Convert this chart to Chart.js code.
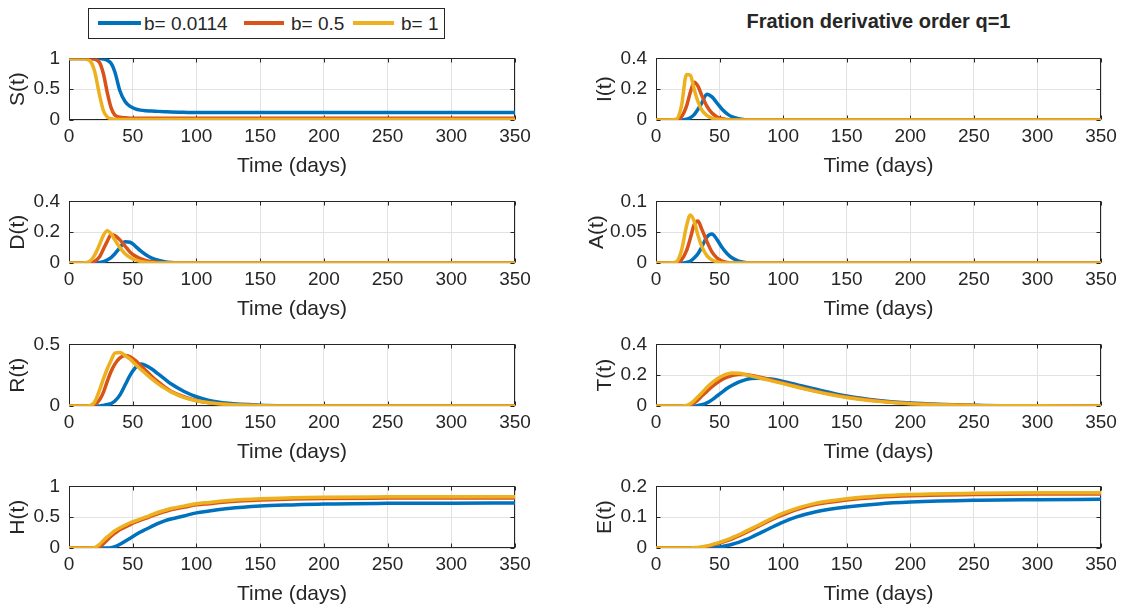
<!DOCTYPE html>
<html>
<head>
<meta charset="utf-8">
<title>Fration derivative order q=1</title>
<script src="https://cdn.jsdelivr.net/npm/chart.js@4/dist/chart.umd.min.js"></script>
<style>
    html, body {
        margin: 0;
        padding: 0;
        background: #fff;
    }

    body {
        position: relative;
        width: 1121px;
        height: 610px;
        overflow: hidden;
        font-family: "Liberation Sans", Arial, sans-serif;
        color: #262626;
    }

    canvas {
        position: absolute;
    }

    #legend {
        position: absolute;
        left: 88px;
        top: 8px;
        width: 357px;
        height: 31px;
        border: 1px solid #262626;
        box-sizing: border-box;
        background: #fff;
    }

    .key {
        position: absolute;
        top: 12px;
        height: 4px;
    }

    .lbl {
        position: absolute;
        top: 0;
        font-size: 19px;
        line-height: 29px;
        white-space: nowrap;
    }

    #title {
        position: absolute;
        left: 656px;
        width: 445px;
        top: 9px;
        text-align: center;
        font-size: 20px;
        font-weight: bold;
        line-height: 24px;
        white-space: nowrap;
    }
</style>
</head>
<body>

<div id="legend"></div>
<div id="title">Fration derivative order q=1</div>

<script>
// ==========================
// Data (time in days)
// ==========================

const days = [0, 10, 16, 20, 24, 27, 30, 33, 36, 40, 44, 48, 52, 56, 60, 65, 70, 75, 80, 90, 100, 110, 125, 150, 175, 200, 250, 300, 350];

const bLabels = ["b= 0.0114", "b= 0.5", "b= 1"];
const bColors = ["#0072BD", "#D95319", "#EDB120"];

// S(t)
const S_0114 = [1, 1, 1, 1, 0.998, 0.99, 0.97, 0.92, 0.78, 0.47, 0.3, 0.22, 0.18, 0.16, 0.15, 0.145, 0.14, 0.135, 0.13, 0.125, 0.12, 0.12, 0.12, 0.12, 0.12, 0.12, 0.12, 0.12, 0.12];
const S_05 = [1, 1, 1, 0.99, 0.93, 0.75, 0.45, 0.2, 0.08, 0.045, 0.035, 0.03, 0.03, 0.03, 0.03, 0.03, 0.03, 0.03, 0.03, 0.03, 0.03, 0.03, 0.03, 0.03, 0.03, 0.03, 0.03, 0.03, 0.03];
const S_1 = [1, 1, 0.97, 0.8, 0.4, 0.15, 0.05, 0.02, 0.012, 0.01, 0.01, 0.01, 0.01, 0.01, 0.01, 0.01, 0.01, 0.01, 0.01, 0.01, 0.01, 0.01, 0.01, 0.01, 0.01, 0.01, 0.01, 0.01, 0.01];

// I(t)
const I_0114 = [0, 0, 0, 0, 0.005, 0.015, 0.035, 0.07, 0.11, 0.168, 0.15, 0.11, 0.07, 0.04, 0.02, 0.008, 0.002, 0, 0, 0, 0, 0, 0, 0, 0, 0, 0, 0, 0];
const I_05 = [0, 0, 0, 0.02, 0.09, 0.18, 0.245, 0.22, 0.16, 0.09, 0.045, 0.02, 0.008, 0.003, 0, 0, 0, 0, 0, 0, 0, 0, 0, 0, 0, 0, 0, 0, 0];
const I_1 = [0, 0, 0.005, 0.09, 0.295, 0.29, 0.2, 0.12, 0.065, 0.03, 0.012, 0.005, 0.002, 0, 0, 0, 0, 0, 0, 0, 0, 0, 0, 0, 0, 0, 0, 0, 0];

// D(t)
const D_0114 = [0, 0, 0, 0, 0.003, 0.008, 0.02, 0.035, 0.06, 0.1, 0.138, 0.135, 0.11, 0.08, 0.055, 0.032, 0.018, 0.009, 0.004, 0, 0, 0, 0, 0, 0, 0, 0, 0, 0];
const D_05 = [0, 0, 0, 0.01, 0.04, 0.09, 0.14, 0.183, 0.178, 0.15, 0.11, 0.07, 0.045, 0.028, 0.017, 0.008, 0.004, 0.001, 0, 0, 0, 0, 0, 0, 0, 0, 0, 0, 0];
const D_1 = [0, 0, 0.01, 0.05, 0.12, 0.18, 0.21, 0.19, 0.15, 0.1, 0.06, 0.035, 0.02, 0.01, 0.005, 0.002, 0, 0, 0, 0, 0, 0, 0, 0, 0, 0, 0, 0, 0];

// A(t)
const A_0114 = [0, 0, 0, 0, 0.001, 0.003, 0.008, 0.015, 0.026, 0.042, 0.047, 0.038, 0.025, 0.015, 0.008, 0.003, 0.001, 0, 0, 0, 0, 0, 0, 0, 0, 0, 0, 0, 0];
const A_05 = [0, 0, 0, 0.005, 0.02, 0.04, 0.062, 0.068, 0.055, 0.035, 0.018, 0.008, 0.003, 0.001, 0, 0, 0, 0, 0, 0, 0, 0, 0, 0, 0, 0, 0, 0, 0];
const A_1 = [0, 0, 0.002, 0.02, 0.06, 0.078, 0.068, 0.045, 0.027, 0.012, 0.005, 0.002, 0, 0, 0, 0, 0, 0, 0, 0, 0, 0, 0, 0, 0, 0, 0, 0, 0];

// R(t)
const R_0114 = [0, 0, 0, 0, 0, 0.005, 0.012, 0.02, 0.04, 0.09, 0.17, 0.25, 0.31, 0.34, 0.33, 0.3, 0.26, 0.22, 0.18, 0.12, 0.075, 0.045, 0.022, 0.007, 0.002, 0, 0, 0, 0];
const R_05 = [0, 0, 0, 0.01, 0.05, 0.11, 0.2, 0.28, 0.34, 0.39, 0.41, 0.4, 0.37, 0.33, 0.29, 0.24, 0.195, 0.155, 0.12, 0.075, 0.045, 0.027, 0.012, 0.003, 0, 0, 0, 0, 0];
const R_1 = [0, 0, 0.003, 0.03, 0.13, 0.22, 0.3, 0.37, 0.43, 0.435, 0.41, 0.38, 0.34, 0.3, 0.265, 0.22, 0.18, 0.145, 0.115, 0.07, 0.043, 0.026, 0.012, 0.003, 0, 0, 0, 0, 0];

// T(t)
const T_0114 = [0, 0, 0, 0, 0, 0, 0, 0.003, 0.008, 0.02, 0.04, 0.065, 0.09, 0.115, 0.135, 0.155, 0.17, 0.178, 0.18, 0.175, 0.16, 0.14, 0.11, 0.065, 0.036, 0.019, 0.005, 0.001, 0];
const T_05 = [0, 0, 0, 0, 0, 0.005, 0.02, 0.04, 0.065, 0.095, 0.125, 0.15, 0.172, 0.188, 0.198, 0.205, 0.204, 0.198, 0.19, 0.17, 0.15, 0.128, 0.098, 0.058, 0.032, 0.016, 0.004, 0.001, 0];
const T_1 = [0, 0, 0, 0, 0.003, 0.015, 0.035, 0.06, 0.085, 0.12, 0.15, 0.175, 0.195, 0.208, 0.215, 0.213, 0.205, 0.195, 0.185, 0.165, 0.145, 0.125, 0.095, 0.055, 0.03, 0.015, 0.004, 0.001, 0];

// H(t)
const H_0114 = [0, 0, 0, 0, 0, 0, 0, 0.005, 0.02, 0.06, 0.11, 0.16, 0.21, 0.26, 0.3, 0.35, 0.4, 0.44, 0.47, 0.52, 0.57, 0.6, 0.64, 0.68, 0.7, 0.715, 0.725, 0.728, 0.73];
const H_05 = [0, 0, 0, 0, 0.02, 0.07, 0.13, 0.19, 0.24, 0.3, 0.34, 0.38, 0.42, 0.45, 0.48, 0.52, 0.56, 0.59, 0.62, 0.66, 0.7, 0.72, 0.75, 0.78, 0.795, 0.805, 0.81, 0.812, 0.813];
const H_1 = [0, 0, 0, 0.005, 0.06, 0.12, 0.18, 0.23, 0.28, 0.33, 0.37, 0.41, 0.44, 0.47, 0.5, 0.54, 0.58, 0.61, 0.64, 0.68, 0.72, 0.74, 0.77, 0.8, 0.815, 0.825, 0.83, 0.832, 0.833];

// E(t)
const E_0114 = [0, 0, 0, 0, 0, 0, 0, 0, 0, 0, 0.001, 0.003, 0.005, 0.008, 0.012, 0.018, 0.026, 0.035, 0.045, 0.065, 0.084, 0.1, 0.117, 0.133, 0.143, 0.149, 0.155, 0.157, 0.158];
const E_05 = [0, 0, 0, 0, 0, 0, 0, 0, 0.002, 0.005, 0.009, 0.013, 0.018, 0.024, 0.03, 0.039, 0.049, 0.059, 0.069, 0.09, 0.108, 0.124, 0.141, 0.156, 0.165, 0.17, 0.174, 0.175, 0.175];
const E_1 = [0, 0, 0, 0, 0, 0, 0.001, 0.002, 0.004, 0.007, 0.011, 0.016, 0.021, 0.027, 0.034, 0.043, 0.053, 0.063, 0.073, 0.094, 0.113, 0.128, 0.145, 0.16, 0.169, 0.174, 0.178, 0.179, 0.179];

// ==========================
// Subplot grid (4 rows x 2 columns)
// ==========================

const panels = [
    { label: "S(t)", max: 1, step: 0.5, series: [S_0114, S_05, S_1], col: 0, row: 0 },
    { label: "I(t)", max: 0.4, step: 0.2, series: [I_0114, I_05, I_1], col: 1, row: 0 },
    { label: "D(t)", max: 0.4, step: 0.2, series: [D_0114, D_05, D_1], col: 0, row: 1 },
    { label: "A(t)", max: 0.1, step: 0.05, series: [A_0114, A_05, A_1], col: 1, row: 1, wide: true },
    { label: "R(t)", max: 0.5, step: 0.5, series: [R_0114, R_05, R_1], col: 0, row: 2 },
    { label: "T(t)", max: 0.4, step: 0.2, series: [T_0114, T_05, T_1], col: 1, row: 2 },
    { label: "H(t)", max: 1, step: 0.5, series: [H_0114, H_05, H_1], col: 0, row: 3 },
    { label: "E(t)", max: 0.2, step: 0.1, series: [E_0114, E_05, E_1], col: 1, row: 3 }
];

const colLeft = [69, 656];
const colWidth = [446, 445];
const rowTop = [52, 195, 338, 480];
const plotHeight = 68;

const xAxisHeight = 62;
const padTop = 14;
const padRight = 30;

const textColor = "#262626";
const fontFamily = "'Liberation Sans', Arial, sans-serif";

Chart.defaults.font.family = fontFamily;
Chart.defaults.color = textColor;

// ==========================
// Axes box with inward ticks
// ==========================

const axesBox = {
    id: "axesBox",
    beforeDatasetsDraw(chart) {
        const { ctx, chartArea: a, scales: { x, y } } = chart;
        const L = Math.round(a.left) + 0.5;
        const R = Math.round(a.right) - 0.5;
        const T = Math.round(a.top) + 0.5;
        const B = Math.round(a.bottom) - 0.5;
        const len = 4;

        ctx.save();
        ctx.strokeStyle = textColor;
        ctx.lineWidth = 1;
        ctx.strokeRect(L, T, R - L, B - T);

        ctx.beginPath();
        x.ticks.forEach(t => {
            const px = Math.round(x.getPixelForValue(t.value)) + 0.5;
            ctx.moveTo(px, B);
            ctx.lineTo(px, B - len);
            ctx.moveTo(px, T);
            ctx.lineTo(px, T + len);
        });
        y.ticks.forEach(t => {
            const py = Math.round(y.getPixelForValue(t.value)) + 0.5;
            ctx.moveTo(L, py);
            ctx.lineTo(L + len, py);
            ctx.moveTo(R, py);
            ctx.lineTo(R - len, py);
        });
        ctx.stroke();
        ctx.restore();
    }
};

function tickText(v) {
    return String(Number(v.toFixed(4)));
}

// ==========================
// Build each subplot
// ==========================

panels.forEach(p => {

    // wider tick labels (0.05) push the y label further out
    const yAxisWidth = p.wide ? 77 : 69;

    const canvas = document.createElement("canvas");
    const w = colWidth[p.col] + yAxisWidth + padRight;
    const h = padTop + plotHeight + xAxisHeight;

    canvas.width = w;
    canvas.height = h;
    canvas.style.left = (colLeft[p.col] - yAxisWidth) + "px";
    canvas.style.top = (rowTop[p.row] - padTop) + "px";
    canvas.style.width = w + "px";
    canvas.style.height = h + "px";
    document.body.appendChild(canvas);

    new Chart(canvas, {
        type: "line",
        data: {
            datasets: p.series.map((vals, i) => ({
                label: bLabels[i],
                data: days.map((d, k) => ({ x: d, y: vals[k] })),
                borderColor: bColors[i],
                borderWidth: 3.5,
                pointRadius: 0,
                cubicInterpolationMode: "monotone",
                fill: false,
                order: p.series.length - 1 - i
            }))
        },
        options: {
            responsive: false,
            animation: false,
            events: [],
            layout: {
                padding: { top: padTop, right: padRight, left: 0, bottom: 0 }
            },
            plugins: {
                legend: { display: false },
                tooltip: { enabled: false }
            },
            scales: {
                x: {
                    type: "linear",
                    min: 0,
                    max: 350,
                    afterFit(scale) { scale.height = xAxisHeight; },
                    ticks: {
                        stepSize: 50,
                        autoSkip: false,
                        maxRotation: 0,
                        padding: 5,
                        color: textColor,
                        font: { size: 19 }
                    },
                    grid: { color: "#e2e2e2", drawTicks: false },
                    border: { display: false },
                    title: {
                        display: true,
                        text: "Time (days)",
                        color: textColor,
                        font: { size: 21 },
                        padding: { top: 0, bottom: 3 }
                    }
                },
                y: {
                    min: 0,
                    max: p.max,
                    afterFit(scale) { scale.width = yAxisWidth; },
                    ticks: {
                        stepSize: p.step,
                        padding: 9,
                        color: textColor,
                        font: { size: 19 },
                        callback: v => tickText(v)
                    },
                    grid: { color: "#e2e2e2", drawTicks: false },
                    border: { display: false },
                    title: {
                        display: true,
                        text: p.label,
                        color: textColor,
                        font: { size: 21 },
                        padding: { top: 6, bottom: 0 }
                    }
                }
            }
        },
        plugins: [axesBox]
    });

});

// ==========================
// Legend
// ==========================

const legend = document.getElementById("legend");
const keyPos = [
    { line: 9, lineW: 43, text: 55 },
    { line: 155, lineW: 40, text: 202 },
    { line: 264, lineW: 41, text: 312 }
];

bLabels.forEach((txt, i) => {
    const key = document.createElement("div");
    key.className = "key";
    key.style.left = keyPos[i].line + "px";
    key.style.width = keyPos[i].lineW + "px";
    key.style.background = bColors[i];
    legend.appendChild(key);

    const lbl = document.createElement("div");
    lbl.className = "lbl";
    lbl.style.left = keyPos[i].text + "px";
    lbl.textContent = txt;
    legend.appendChild(lbl);
});
</script>
</body>
</html>
